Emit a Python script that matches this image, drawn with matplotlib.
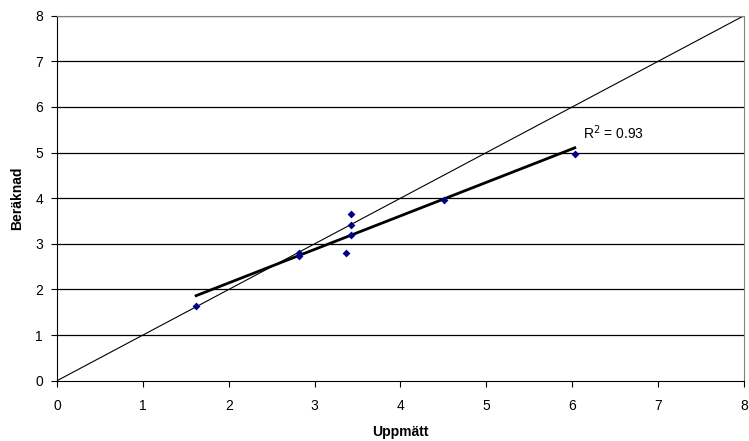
import matplotlib
matplotlib.use("Agg")
import matplotlib.pyplot as plt
import numpy as np

plt.rcParams['font.family'] = ['Liberation Sans', 'DejaVu Sans']

uppmatt = [1.62, 2.82, 2.82, 3.36, 3.42, 3.42, 3.42, 4.51, 6.03]
beraknad = [1.63, 2.79, 2.74, 2.81, 3.20, 3.42, 3.65, 3.95, 4.96]
ticks = [0, 1, 2, 3, 4, 5, 6, 7, 8]

fig = plt.figure(figsize=(7.49, 4.41), dpi=100)
ax = fig.add_axes([0.0761, 0.1367, 0.9933 - 0.0761, 0.9644 - 0.1367])

ax.set_xlim(0, 8)
ax.set_ylim(0, 8)
ax.set_xticks(ticks)
ax.set_yticks(ticks)
for t in ticks[1:]:
    ax.axhline(t, color='black', lw=0.9, zorder=1)

ax.plot([0, 8], [0, 8], color='black', lw=0.8, zorder=2)

x = np.array(uppmatt)
y = np.array(beraknad)
k, m = np.polyfit(x, y, 1)
xs = np.array([x.min(), x.max()])
ax.plot(xs, k * xs + m, color='black', lw=2, zorder=3)
pred = k * x + m
r2 = 1 - np.sum((y - pred) ** 2) / np.sum((y - y.mean()) ** 2)

ax.scatter(x, y, marker='D', s=16, color='#00008B', zorder=4, linewidths=0)
ax.text(6.13, 5.43, "R$^2$ = %.2f" % r2, fontsize=10, va='center', ha='left')

for s in ['top', 'right']:
    ax.spines[s].set_color('#808080')
for s in ['left', 'bottom']:
    ax.spines[s].set_color('black')
ax.tick_params(direction='out', length=4, labelsize=10)
ax.tick_params(axis='x', pad=9)
ax.tick_params(axis='y', pad=6)
ax.set_xlabel('Uppmätt', fontsize=10, fontweight='bold', labelpad=9)
ax.set_ylabel('Beräknad', fontsize=10, fontweight='bold', labelpad=8)

fig.savefig('out.png', dpi=100)
